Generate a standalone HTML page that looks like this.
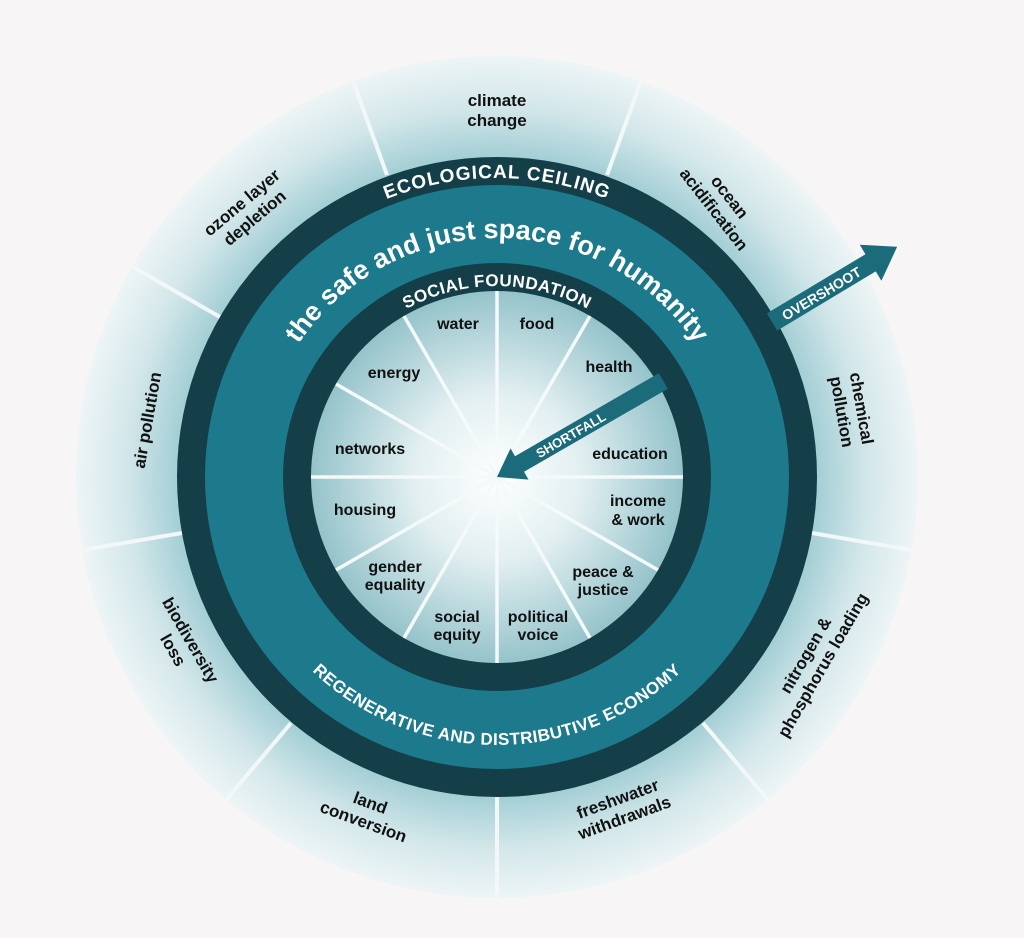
<!DOCTYPE html>
<html><head><meta charset="utf-8"><style>
html,body{margin:0;padding:0;background:#f7f5f6;}
svg{display:block;font-family:"Liberation Sans",Arial,sans-serif;font-weight:bold;}
</style></head><body>
<svg width="1024" height="938" viewBox="0 0 1024 938">
<defs>
<radialGradient id="og" cx="497" cy="477" r="422" gradientUnits="userSpaceOnUse">
<stop offset="0.74" stop-color="#9ccbd2"/>
<stop offset="0.88" stop-color="#d3e7ea"/>
<stop offset="1" stop-color="#eef5f6"/>
</radialGradient>
<radialGradient id="ig" cx="497" cy="477" r="187" gradientUnits="userSpaceOnUse">
<stop offset="0" stop-color="#ffffff"/>
<stop offset="0.45" stop-color="#e2eff1"/>
<stop offset="1" stop-color="#94c3ca"/>
</radialGradient>
<path id="ecoArc" d="M 198 477 A 299 299 0 0 1 796 477"/>
<path id="humArc" d="M 258 477 A 239 239 0 0 1 736 477"/>
<path id="socArc" d="M 306 477 A 191 191 0 0 1 688 477"/>
<path id="regArc" d="M 229 477 A 268 268 0 0 0 765 477"/>
</defs>
<circle cx="497" cy="477" r="421" fill="url(#og)"/>
<g stroke="#f2f7f8" stroke-width="4">
<line x1="387" y1="175" x2="353" y2="81"/>
<line x1="607" y1="175" x2="641" y2="81"/>
<line x1="774" y1="317" x2="861" y2="267"/>
<line x1="812" y1="533" x2="911" y2="550"/>
<line x1="703" y1="723" x2="768" y2="800"/>
<line x1="497" y1="797" x2="497" y2="898"/>
<line x1="291" y1="723" x2="226" y2="800"/>
<line x1="182" y1="533" x2="83" y2="550"/>
<line x1="220" y1="317" x2="133" y2="267"/>
</g>
<circle cx="497" cy="477" r="320" fill="#143f49"/>
<circle cx="497" cy="477" r="292" fill="#1d7a8c"/>
<circle cx="497" cy="477" r="214" fill="#143f49"/>
<circle cx="497" cy="477" r="186" fill="url(#ig)"/>
<g stroke="#f4f9fa" stroke-width="3.5">
<line x1="497" y1="477" x2="497" y2="291"/>
<line x1="497" y1="477" x2="590" y2="316"/>
<line x1="497" y1="477" x2="658" y2="384"/>
<line x1="497" y1="477" x2="683" y2="477"/>
<line x1="497" y1="477" x2="658" y2="570"/>
<line x1="497" y1="477" x2="590" y2="638"/>
<line x1="497" y1="477" x2="497" y2="663"/>
<line x1="497" y1="477" x2="404" y2="638"/>
<line x1="497" y1="477" x2="336" y2="570"/>
<line x1="497" y1="477" x2="311" y2="477"/>
<line x1="497" y1="477" x2="336" y2="384"/>
<line x1="497" y1="477" x2="404" y2="316"/>
</g>
<g transform="translate(497,477) rotate(-30)">
<polygon points="0,0 26,-18 26,-9 192,-9 192,9 26,9 26,18" fill="#1b6b7a"/>
<text x="85" y="5" font-size="13" fill="#fff" text-anchor="middle">SHORTFALL</text>
</g>
<g transform="translate(772,322) rotate(-31)">
<polygon points="0,-10 115,-10 115,-21 146,0 115,21 115,10 0,10" fill="#1b6b7a"/>
<text x="57" y="6" font-size="14" fill="#fff" text-anchor="middle">OVERSHOOT</text>
</g>
<g fill="#fff">
<text font-size="19" letter-spacing="1"><textPath href="#ecoArc" startOffset="50%" text-anchor="middle">ECOLOGICAL CEILING</textPath></text>
<text font-size="27"><textPath href="#humArc" startOffset="50%" text-anchor="middle">the safe and just space for humanity</textPath></text>
<text font-size="17" letter-spacing="0.5"><textPath href="#socArc" startOffset="50%" text-anchor="middle">SOCIAL FOUNDATION</textPath></text>
<text font-size="17" letter-spacing="0.5"><textPath href="#regArc" startOffset="50%" text-anchor="middle">REGENERATIVE AND DISTRIBUTIVE ECONOMY</textPath></text>
</g>
<g fill="#111" font-size="16" text-anchor="middle">
<text x="458" y="329">water</text>
<text x="537" y="329">food</text>
<text x="609" y="372">health</text>
<text x="394" y="378">energy</text>
<text x="370" y="454">networks</text>
<text x="630" y="459">education</text>
<text x="365" y="515">housing</text>
<text x="638" y="506">income</text><text x="638" y="525">&amp; work</text>
<text x="395" y="572">gender</text><text x="395" y="590">equality</text>
<text x="603" y="577">peace &amp;</text><text x="603" y="595">justice</text>
<text x="457" y="622">social</text><text x="457" y="640">equity</text>
<text x="538" y="622">political</text><text x="538" y="640">voice</text>
</g>
<g fill="#111" font-size="17" text-anchor="middle">
<text x="497" y="106">climate</text><text x="497" y="126">change</text>
<g transform="translate(722,203) rotate(52)"><text y="-4">ocean</text><text y="16">acidification</text></g>
<g transform="translate(852,410) rotate(80)"><text y="-4">chemical</text><text y="16">pollution</text></g>
<g transform="translate(814,660) rotate(-60)"><text y="-4">nitrogen &amp;</text><text y="16">phosphorus loading</text></g>
<g transform="translate(621,808) rotate(-20)"><text y="-4">freshwater</text><text y="16">withdrawals</text></g>
<g transform="translate(367,812) rotate(20)"><text y="-4">land</text><text y="16">conversion</text></g>
<g transform="translate(182,645) rotate(60)"><text y="-4">biodiversity</text><text y="16">loss</text></g>
<g transform="translate(147,420) rotate(-80)"><text y="6">air pollution</text></g>
<g transform="translate(248,210) rotate(-40)"><text y="-4">ozone layer</text><text y="16">depletion</text></g>
</g>
</svg>
</body></html>
